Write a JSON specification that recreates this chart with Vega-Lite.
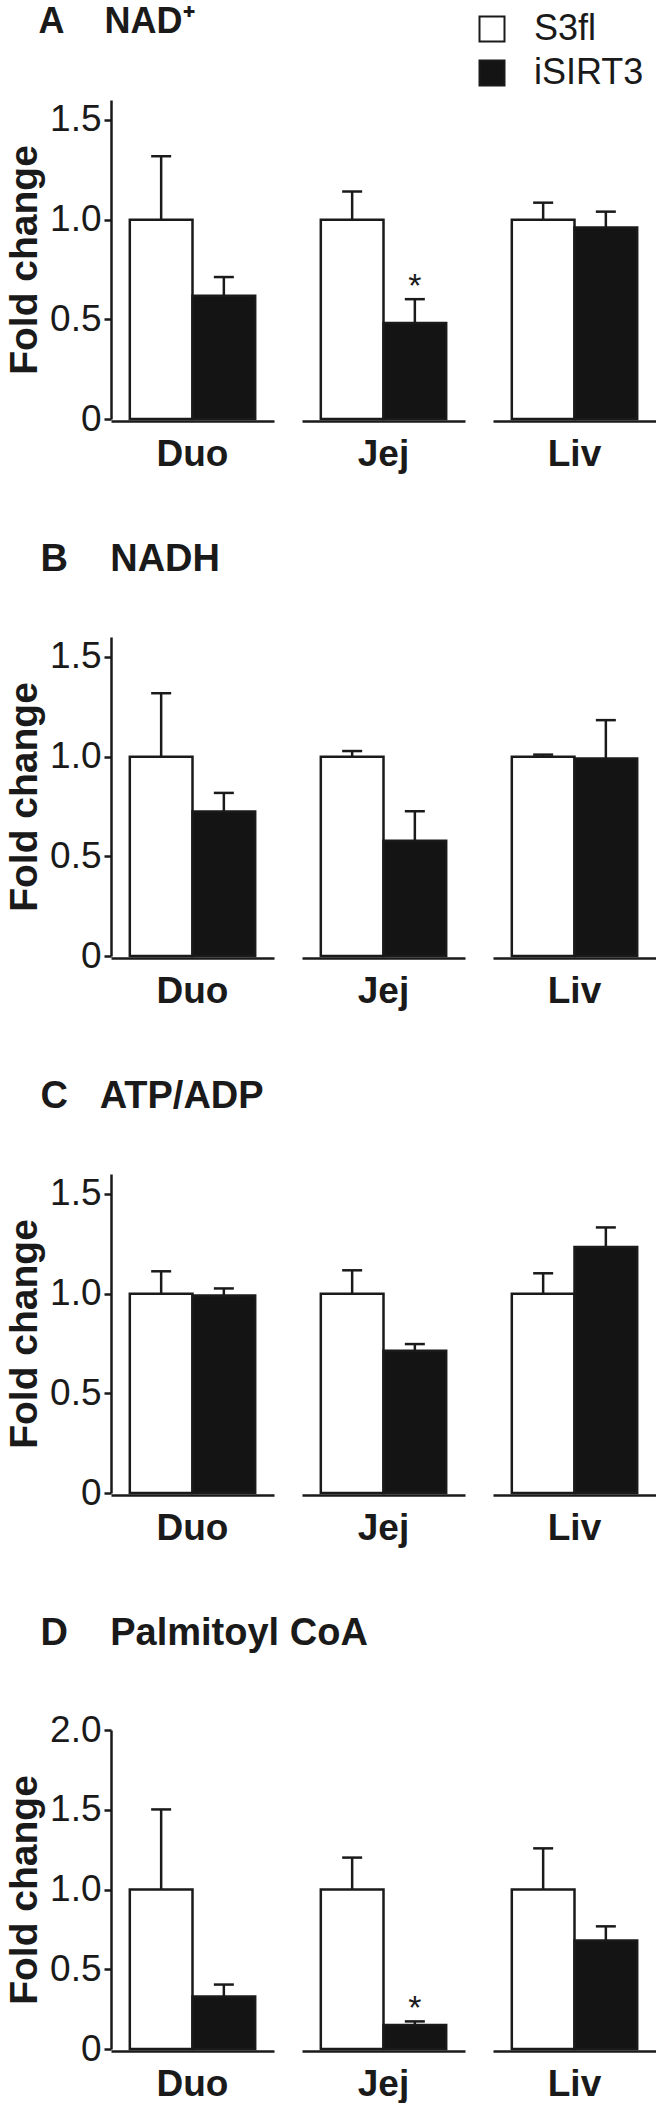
{
  "$schema": "https://vega.github.io/schema/vega-lite/v6.json",
  "padding": {"left": 5, "top": 4, "right": 0, "bottom": 0},
  "background": "white",
  "config": {
    "view": {"stroke": null},
    "font": "Liberation Sans",
    "axis": {"grid": false, "domainColor": "#1a1a1a", "domainWidth": 2.5, "tickColor": "#1a1a1a", "tickWidth": 2.5, "labelColor": "#1a1a1a", "titleColor": "#1a1a1a"},
    "title": {"font": "Liberation Sans", "fontWeight": "bold", "color": "#1a1a1a", "anchor": "start", "frame": "bounds"},
    "header": {"labelFont": "Liberation Sans", "labelFontWeight": "bold", "labelFontSize": 37, "labelColor": "#1a1a1a", "labelOrient": "bottom", "labelPadding": 16, "title": null}
  },
  "datasets": {
    "d": [
      {"panel": "A", "tissue": "Duo", "group": "S3fl", "value": 1.0, "err": 1.318, "sig": ""},
      {"panel": "A", "tissue": "Duo", "group": "iSIRT3", "value": 0.618, "err": 0.712, "sig": ""},
      {"panel": "A", "tissue": "Jej", "group": "S3fl", "value": 1.0, "err": 1.141, "sig": ""},
      {"panel": "A", "tissue": "Jej", "group": "iSIRT3", "value": 0.482, "err": 0.601, "sig": "*"},
      {"panel": "A", "tissue": "Liv", "group": "S3fl", "value": 1.0, "err": 1.085, "sig": ""},
      {"panel": "A", "tissue": "Liv", "group": "iSIRT3", "value": 0.96, "err": 1.04, "sig": ""},
      {"panel": "B", "tissue": "Duo", "group": "S3fl", "value": 1.0, "err": 1.318, "sig": ""},
      {"panel": "B", "tissue": "Duo", "group": "iSIRT3", "value": 0.725, "err": 0.818, "sig": ""},
      {"panel": "B", "tissue": "Jej", "group": "S3fl", "value": 1.0, "err": 1.028, "sig": ""},
      {"panel": "B", "tissue": "Jej", "group": "iSIRT3", "value": 0.578, "err": 0.726, "sig": ""},
      {"panel": "B", "tissue": "Liv", "group": "S3fl", "value": 1.0, "err": 1.01, "sig": ""},
      {"panel": "B", "tissue": "Liv", "group": "iSIRT3", "value": 0.99, "err": 1.183, "sig": ""},
      {"panel": "C", "tissue": "Duo", "group": "S3fl", "value": 1.0, "err": 1.112, "sig": ""},
      {"panel": "C", "tissue": "Duo", "group": "iSIRT3", "value": 0.99, "err": 1.026, "sig": ""},
      {"panel": "C", "tissue": "Jej", "group": "S3fl", "value": 1.0, "err": 1.117, "sig": ""},
      {"panel": "C", "tissue": "Jej", "group": "iSIRT3", "value": 0.714, "err": 0.747, "sig": ""},
      {"panel": "C", "tissue": "Liv", "group": "S3fl", "value": 1.0, "err": 1.102, "sig": ""},
      {"panel": "C", "tissue": "Liv", "group": "iSIRT3", "value": 1.234, "err": 1.332, "sig": ""},
      {"panel": "D", "tissue": "Duo", "group": "S3fl", "value": 1.0, "err": 1.502, "sig": ""},
      {"panel": "D", "tissue": "Duo", "group": "iSIRT3", "value": 0.329, "err": 0.404, "sig": ""},
      {"panel": "D", "tissue": "Jej", "group": "S3fl", "value": 1.0, "err": 1.2, "sig": ""},
      {"panel": "D", "tissue": "Jej", "group": "iSIRT3", "value": 0.151, "err": 0.173, "sig": "*"},
      {"panel": "D", "tissue": "Liv", "group": "S3fl", "value": 1.0, "err": 1.258, "sig": ""},
      {"panel": "D", "tissue": "Liv", "group": "iSIRT3", "value": 0.68, "err": 0.769, "sig": ""}
    ]
  },
  "spacing": 68,
  "vconcat": [
    {
      "data": {"name": "d"},
      "transform": [{"filter": "datum.panel === 'A'"}],
      "title": {"text": "A\u00a0\u00a0\u00a0\u00a0NAD\u207a", "fontSize": 36, "baseline": "alphabetic", "offset": 31, "dx": 33},
      "facet": {"column": {"field": "tissue", "type": "nominal", "sort": ["Duo", "Jej", "Liv"]}},
      "spacing": 28,
      "spec": {
        "width": 163, "height": 319,
        "encoding": {
          "x": {"field": "group", "type": "nominal", "sort": ["S3fl", "iSIRT3"], "scale": {"paddingInner": 0, "paddingOuter": 0.3}, "axis": {"domain": true, "ticks": false, "labels": false, "title": null}}
        },
        "layer": [
          {"mark": {"type": "bar", "stroke": "#1a1a1a", "strokeWidth": 2.5},
           "encoding": {
             "y": {"field": "value", "type": "quantitative", "title": "Fold change", "scale": {"domain": [0, 1.5]}, "axis": {"values": [0, 0.5, 1, 1.5], "labelExpr": "datum.value == 0 ? '0' : format(datum.value, '.1f')", "labelFontSize": 37, "labelPadding": 3, "tickSize": 7, "titleFontSize": 39, "titleFontWeight": "bold", "titlePadding": 5}},
             "fill": {"field": "group", "type": "nominal", "scale": {"domain": ["S3fl", "iSIRT3"], "range": ["white", "#141414"]},
               "legend": {"orient": "none", "legendX": 363, "legendY": -89, "title": null, "symbolType": "square", "symbolSize": 625, "symbolStrokeColor": "#1a1a1a", "symbolStrokeWidth": 2, "labelFontSize": 36, "labelColor": "#1a1a1a", "labelOffset": 24, "rowPadding": 8, "padding": 0}}
           }},
          {"mark": {"type": "rule", "color": "#1a1a1a", "strokeWidth": 2.5},
           "encoding": {"y": {"field": "value", "type": "quantitative", "title": "Fold change"}, "y2": {"field": "err"}}},
          {"mark": {"type": "tick", "color": "#1a1a1a", "size": 20, "thickness": 2.5, "opacity": 1},
           "encoding": {"y": {"field": "err", "type": "quantitative", "title": "Fold change"}}},
          {"mark": {"type": "text", "fontSize": 34, "color": "#1a1a1a", "baseline": "alphabetic", "dy": -2},
           "encoding": {"y": {"field": "err", "type": "quantitative", "title": "Fold change"}, "text": {"field": "sig"}}}
        ]
      }
    },
    {
      "data": {"name": "d"},
      "transform": [{"filter": "datum.panel === 'B'"}],
      "title": {"text": "B\u00a0\u00a0\u00a0\u00a0NADH", "fontSize": 38, "baseline": "alphabetic", "offset": 28, "dx": 35},
      "facet": {"column": {"field": "tissue", "type": "nominal", "sort": ["Duo", "Jej", "Liv"]}},
      "spacing": 28,
      "spec": {
        "width": 163, "height": 319,
        "encoding": {
          "x": {"field": "group", "type": "nominal", "sort": ["S3fl", "iSIRT3"], "scale": {"paddingInner": 0, "paddingOuter": 0.3}, "axis": {"domain": true, "ticks": false, "labels": false, "title": null}}
        },
        "layer": [
          {"mark": {"type": "bar", "stroke": "#1a1a1a", "strokeWidth": 2.5},
           "encoding": {
             "y": {"field": "value", "type": "quantitative", "title": "Fold change", "scale": {"domain": [0, 1.5]}, "axis": {"values": [0, 0.5, 1, 1.5], "labelExpr": "datum.value == 0 ? '0' : format(datum.value, '.1f')", "labelFontSize": 37, "labelPadding": 3, "tickSize": 7, "titleFontSize": 39, "titleFontWeight": "bold", "titlePadding": 5}},
             "fill": {"field": "group", "type": "nominal", "scale": {"domain": ["S3fl", "iSIRT3"], "range": ["white", "#141414"]}, "legend": null}
           }},
          {"mark": {"type": "rule", "color": "#1a1a1a", "strokeWidth": 2.5},
           "encoding": {"y": {"field": "value", "type": "quantitative", "title": "Fold change"}, "y2": {"field": "err"}}},
          {"mark": {"type": "tick", "color": "#1a1a1a", "size": 20, "thickness": 2.5, "opacity": 1},
           "encoding": {"y": {"field": "err", "type": "quantitative", "title": "Fold change"}}},
          {"mark": {"type": "text", "fontSize": 34, "color": "#1a1a1a", "baseline": "alphabetic", "dy": -2},
           "encoding": {"y": {"field": "err", "type": "quantitative", "title": "Fold change"}, "text": {"field": "sig"}}}
        ]
      }
    },
    {
      "data": {"name": "d"},
      "transform": [{"filter": "datum.panel === 'C'"}],
      "title": {"text": "C\u00a0\u00a0\u00a0ATP/ADP", "fontSize": 38, "baseline": "alphabetic", "offset": 28, "dx": 35},
      "facet": {"column": {"field": "tissue", "type": "nominal", "sort": ["Duo", "Jej", "Liv"]}},
      "spacing": 28,
      "spec": {
        "width": 163, "height": 319,
        "encoding": {
          "x": {"field": "group", "type": "nominal", "sort": ["S3fl", "iSIRT3"], "scale": {"paddingInner": 0, "paddingOuter": 0.3}, "axis": {"domain": true, "ticks": false, "labels": false, "title": null}}
        },
        "layer": [
          {"mark": {"type": "bar", "stroke": "#1a1a1a", "strokeWidth": 2.5},
           "encoding": {
             "y": {"field": "value", "type": "quantitative", "title": "Fold change", "scale": {"domain": [0, 1.5]}, "axis": {"values": [0, 0.5, 1, 1.5], "labelExpr": "datum.value == 0 ? '0' : format(datum.value, '.1f')", "labelFontSize": 37, "labelPadding": 3, "tickSize": 7, "titleFontSize": 39, "titleFontWeight": "bold", "titlePadding": 5}},
             "fill": {"field": "group", "type": "nominal", "scale": {"domain": ["S3fl", "iSIRT3"], "range": ["white", "#141414"]}, "legend": null}
           }},
          {"mark": {"type": "rule", "color": "#1a1a1a", "strokeWidth": 2.5},
           "encoding": {"y": {"field": "value", "type": "quantitative", "title": "Fold change"}, "y2": {"field": "err"}}},
          {"mark": {"type": "tick", "color": "#1a1a1a", "size": 20, "thickness": 2.5, "opacity": 1},
           "encoding": {"y": {"field": "err", "type": "quantitative", "title": "Fold change"}}},
          {"mark": {"type": "text", "fontSize": 34, "color": "#1a1a1a", "baseline": "alphabetic", "dy": -2},
           "encoding": {"y": {"field": "err", "type": "quantitative", "title": "Fold change"}, "text": {"field": "sig"}}}
        ]
      }
    },
    {
      "data": {"name": "d"},
      "transform": [{"filter": "datum.panel === 'D'"}],
      "title": {"text": "D\u00a0\u00a0\u00a0\u00a0Palmitoyl CoA", "fontSize": 38, "baseline": "alphabetic", "offset": 28, "dx": 35},
      "facet": {"column": {"field": "tissue", "type": "nominal", "sort": ["Duo", "Jej", "Liv"]}},
      "spacing": 28,
      "spec": {
        "width": 163, "height": 319,
        "encoding": {
          "x": {"field": "group", "type": "nominal", "sort": ["S3fl", "iSIRT3"], "scale": {"paddingInner": 0, "paddingOuter": 0.3}, "axis": {"domain": true, "ticks": false, "labels": false, "title": null}}
        },
        "layer": [
          {"mark": {"type": "bar", "stroke": "#1a1a1a", "strokeWidth": 2.5},
           "encoding": {
             "y": {"field": "value", "type": "quantitative", "title": "Fold change", "scale": {"domain": [0, 2]}, "axis": {"values": [0, 0.5, 1, 1.5, 2], "labelExpr": "datum.value == 0 ? '0' : format(datum.value, '.1f')", "labelFontSize": 37, "labelPadding": 3, "tickSize": 7, "titleFontSize": 39, "titleFontWeight": "bold", "titlePadding": 5}},
             "fill": {"field": "group", "type": "nominal", "scale": {"domain": ["S3fl", "iSIRT3"], "range": ["white", "#141414"]}, "legend": null}
           }},
          {"mark": {"type": "rule", "color": "#1a1a1a", "strokeWidth": 2.5},
           "encoding": {"y": {"field": "value", "type": "quantitative", "title": "Fold change"}, "y2": {"field": "err"}}},
          {"mark": {"type": "tick", "color": "#1a1a1a", "size": 20, "thickness": 2.5, "opacity": 1},
           "encoding": {"y": {"field": "err", "type": "quantitative", "title": "Fold change"}}},
          {"mark": {"type": "text", "fontSize": 34, "color": "#1a1a1a", "baseline": "alphabetic", "dy": -2},
           "encoding": {"y": {"field": "err", "type": "quantitative", "title": "Fold change"}, "text": {"field": "sig"}}}
        ]
      }
    }
  ]
}
